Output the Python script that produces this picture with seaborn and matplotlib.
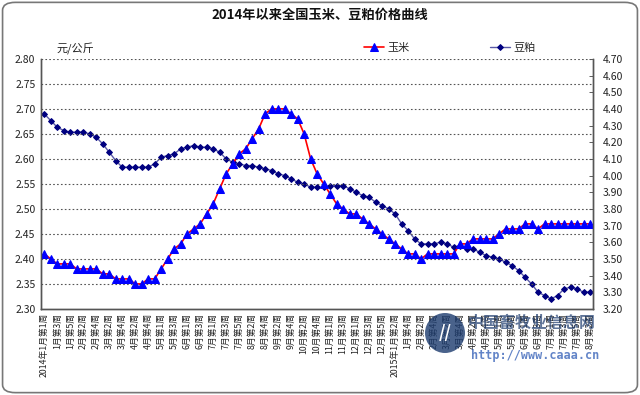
import numpy as np
import pandas as pd
import matplotlib
matplotlib.use("Agg")
import matplotlib.pyplot as plt
import seaborn as sns
from matplotlib.patches import FancyBboxPatch, Ellipse

# weekly prices, 2014年1月第1周 .. 2015年8月第2周 (85 weeks)
corn = [2.41, 2.40, 2.39, 2.39, 2.39, 2.38, 2.38, 2.38, 2.38, 2.37,
        2.37, 2.36, 2.36, 2.36, 2.35, 2.35, 2.36, 2.36, 2.38, 2.40,
        2.42, 2.43, 2.45, 2.46, 2.47, 2.49, 2.51, 2.54, 2.57, 2.59,
        2.61, 2.62, 2.64, 2.66, 2.69, 2.70, 2.70, 2.70, 2.69, 2.68,
        2.65, 2.60, 2.57, 2.55, 2.53, 2.51, 2.50, 2.49, 2.49, 2.48,
        2.47, 2.46, 2.45, 2.44, 2.43, 2.42, 2.41, 2.41, 2.40, 2.41,
        2.41, 2.41, 2.41, 2.41, 2.43, 2.43, 2.44, 2.44, 2.44, 2.44,
        2.45, 2.46, 2.46, 2.46, 2.47, 2.47, 2.46, 2.47, 2.47, 2.47,
        2.47, 2.47, 2.47, 2.47, 2.47]

soymeal = [4.37, 4.33, 4.29, 4.27, 4.26, 4.26, 4.26, 4.25, 4.23, 4.19,
           4.14, 4.09, 4.05, 4.05, 4.05, 4.05, 4.05, 4.07, 4.11, 4.12,
           4.13, 4.16, 4.17, 4.18, 4.17, 4.17, 4.16, 4.14, 4.10, 4.08,
           4.07, 4.06, 4.06, 4.05, 4.04, 4.03, 4.01, 4.00, 3.98, 3.96,
           3.95, 3.93, 3.93, 3.93, 3.94, 3.94, 3.94, 3.92, 3.90, 3.88,
           3.87, 3.84, 3.82, 3.80, 3.77, 3.71, 3.67, 3.62, 3.59, 3.59,
           3.59, 3.60, 3.59, 3.57, 3.58, 3.56, 3.56, 3.54, 3.52, 3.51,
           3.50, 3.48, 3.46, 3.43, 3.39, 3.35, 3.30, 3.28, 3.26, 3.28,
           3.32, 3.33, 3.32, 3.30, 3.30]

# every second week is labelled
tick_labels = ["2014年1月第1周", "1月第3周", "1月第5周", "2月第2周", "2月第4周",
               "3月第2周", "3月第4周", "4月第2周", "4月第4周", "5月第1周",
               "5月第3周", "6月第1周", "6月第3周", "7月第1周", "7月第3周",
               "7月第5周", "8月第2周", "8月第4周", "9月第2周", "9月第4周",
               "10月第2周", "10月第4周", "11月第1周", "11月第3周", "12月第1周",
               "12月第3周", "12月第5周", "2015年1月第2周", "1月第4周", "2月第2周",
               "2月第4周", "3月第2周", "3月第4周", "4月第2周", "4月第4周",
               "5月第1周", "5月第3周", "6月第1周", "6月第3周", "7月第1周",
               "7月第3周", "7月第5周", "8月第2周"]

df = pd.DataFrame({"week": np.arange(len(corn)), "corn": corn, "soymeal": soymeal})

sns.set_theme(style="white")
plt.rcParams["font.family"] = ["Noto Sans CJK SC", "DejaVu Sans"]
plt.rcParams["axes.unicode_minus"] = False

fig = plt.figure(figsize=(6.4, 3.95), dpi=100)
ax = fig.add_axes([0.064, 0.218, 0.863, 0.633])
ax2 = ax.twinx()

sns.lineplot(data=df, x="week", y="corn", ax=ax, color="#ff0000", linewidth=1.2,
             marker="^", markersize=6, markerfacecolor="#0000ff",
             markeredgecolor="#0000ff", label="玉米", legend=False)
sns.lineplot(data=df, x="week", y="soymeal", ax=ax2, color="#5a5aa8", linewidth=1.0,
             marker="D", markersize=3, markerfacecolor="#000080",
             markeredgecolor="#000080", label="豆粕", legend=False)

n = len(corn)
ax.set_xlim(-0.5, n - 0.5)
ax.set_ylim(2.30, 2.80)
ax2.set_ylim(3.20, 4.70)
ax.set_yticks(np.round(np.arange(2.30, 2.801, 0.05), 2))
ax2.set_yticks(np.round(np.arange(3.20, 4.701, 0.1), 2))
ax.yaxis.set_major_formatter(matplotlib.ticker.FormatStrFormatter("%.2f"))
ax2.yaxis.set_major_formatter(matplotlib.ticker.FormatStrFormatter("%.2f"))

ax.set_xticks(np.arange(0, n, 2))
ax.set_xticklabels(tick_labels, rotation=90, fontsize=6.3, color="#222222")
ax.set_xticks(np.arange(-0.5, n, 1), minor=True)
ax.tick_params(axis="x", which="major", length=0, pad=3)
ax.tick_params(axis="x", which="minor", direction="in", length=3, width=0.6, color="#444444")
ax.tick_params(axis="y", labelsize=7.5, length=0, pad=4, colors="#222222")
ax2.tick_params(axis="y", labelsize=7.5, direction="in", length=3, width=0.6,
                color="#444444", labelcolor="#222222", pad=7)

for g in np.arange(2.35, 2.801, 0.05):
    ax.axhline(g, color="#555555", linestyle=(0, (1.5, 2)), linewidth=0.8, zorder=0)

for a in (ax, ax2):
    a.set_xlabel("")
    a.set_ylabel("")
    a.spines["top"].set_visible(False)
    for s in ("left", "right", "bottom"):
        a.spines[s].set_color("#555555")
        a.spines[s].set_linewidth(1.0)

ax.set_zorder(ax2.get_zorder() + 1)
ax.patch.set_visible(False)

h1, l1 = ax.get_legend_handles_labels()
h2, l2 = ax2.get_legend_handles_labels()
fig.legend(h1 + h2, l1 + l2, loc="center right", bbox_to_anchor=(0.852, 0.878),
           ncol=2, frameon=False, fontsize=8, handlelength=1.8, columnspacing=7.2,
           handletextpad=0.3)

fig.text(0.5, 0.963, "2014年以来全国玉米、豆粕价格曲线", ha="center", va="center",
         fontsize=9.5, fontweight="bold", color="#111111")
fig.text(0.088, 0.877, "元/公斤", ha="left", va="center", fontsize=8, color="#222222")

# watermark
fig.patches.append(Ellipse((445 / 640, 1 - 333 / 395), 40 / 640, 40 / 395,
                           transform=fig.transFigure, facecolor="#1c3b6e",
                           edgecolor="none", alpha=0.8, zorder=5))
fig.text(445 / 640, 1 - 333 / 395, "//", ha="center", va="center", fontsize=12,
         color="white", fontweight="bold", zorder=6)
fig.text(532 / 640, 1 - 323 / 395, "中国畜牧业信息网", ha="center", va="center",
         fontsize=11.5, color="#1c3b6e", alpha=0.7, fontweight="bold", zorder=6)
fig.text(535 / 640, 1 - 355 / 395, "http://www.caaa.cn", ha="center", va="center",
         fontsize=8.5, color="#2050b0", alpha=0.7, fontweight="bold", zorder=6,
         family=["DejaVu Sans Mono", "DejaVu Sans"])

fig.patches.append(FancyBboxPatch((0.004, 0.006), 0.992, 0.988,
                                  boxstyle="round,pad=0,rounding_size=0.02",
                                  transform=fig.transFigure, facecolor="none",
                                  edgecolor="#777777", linewidth=1.2, zorder=10))

fig.savefig("out.png", dpi=100)
